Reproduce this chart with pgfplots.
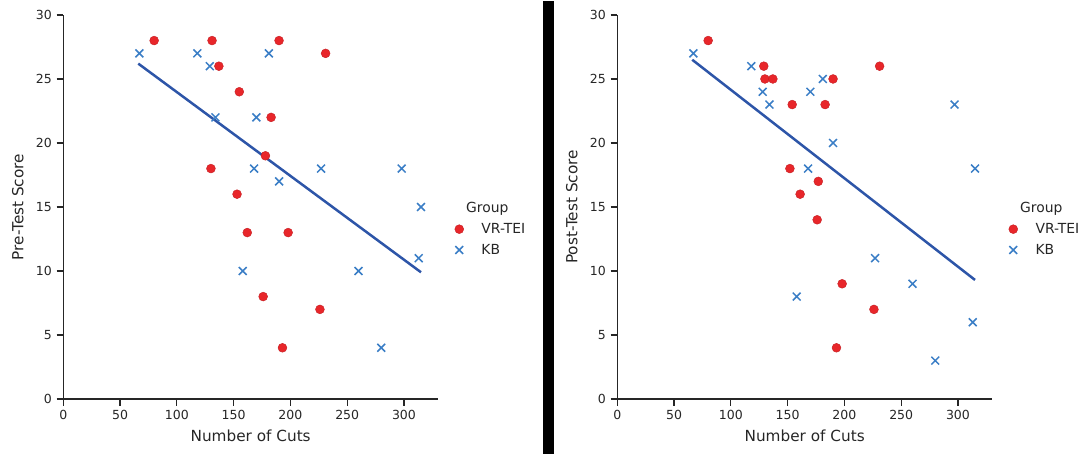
\documentclass[border=0pt]{standalone}
\usepackage{fontspec}
\setmainfont{DejaVu Sans}
\usepackage{pgfplots}
\pgfplotsset{compat=1.18}
\definecolor{vrred}{HTML}{E8262A}
\definecolor{kbblue}{HTML}{3A7EC6}
\definecolor{fitblue}{HTML}{2D55A8}
\definecolor{axgray}{HTML}{262626}
\pgfplotsset{
  myax/.style={
    width=269.8pt, height=276.5pt, scale only axis,
    xmin=0, xmax=330, ymin=0, ymax=30,
    axis x line*=bottom, axis y line*=left,
    axis line style={axgray, line width=0.9pt},
    xtick={0,50,...,300}, ytick={0,5,...,30},
    tick align=outside, major tick length=4.8pt,
    tick style={axgray, line width=0.9pt},
    /pgf/number format/assume math mode=true,
    tick label style={font=\fontsize{9}{11}\selectfont, text=axgray},
    label style={font=\fontsize{11}{13}\selectfont, text=axgray},
    ylabel style={xshift=0pt, yshift=2pt},
    xlabel={Number of Cuts},
    legend style={draw=none, fill=none, font=\fontsize{10}{12}\selectfont, text=axgray,
      at={(1.030,0.528)}, anchor=north west, row sep=2.2pt},
    legend cell align=left,
    clip=false,
  },
  mylegimg/.style={legend image code/.code={\path[draw=none,fill=none] (-4pt,-3pt) rectangle (14pt,3pt); \draw[##1] plot coordinates {(0pt,0pt)};}},
  vr/.style={only marks, mark=*, mark size=3.2pt, color=vrred, mark options={fill=vrred, draw=vrred!85!black, line width=0.3pt}, mylegimg},
  kb/.style={only marks, mark=x, mark size=4.0pt, color=kbblue, mark options={line width=1.1pt}, mylegimg},
  fit/.style={fitblue, line width=1.8pt, no marks},
}
\begin{document}
\begin{tikzpicture}
\useasboundingbox (0,0) rectangle (780.48pt,328.32pt);
\fill[black] (390.7pt,1.44pt) rectangle (399.1pt,327.6pt);
\begin{axis}[myax, at={(45.58pt,41.04pt)}, anchor=origin, ylabel={Pre-Test Score}]
\addlegendimage{empty legend}\addlegendentry{\hspace{-11pt}Group}
\addplot[vr] coordinates {(80,28) (131,28) (190,28) (231,27) (137,26) (155,24) (183,22) (178,19) (130,18) (153,16) (162,13) (198,13) (176,8) (226,7) (193,4)};
\addlegendentry{VR-TEI}
\addplot[kb] coordinates {(67,27) (118,27) (181,27) (129,26) (134,22) (170,22) (168,18) (190,17) (227,18) (298,18) (315,15) (313,11) (158,10) (260,10) (280,4)};
\addlegendentry{KB}
\addplot[fit, forget plot] coordinates {(66,26.2) (315,9.9)};
\end{axis}
\begin{axis}[myax, at={(444.46pt,41.04pt)}, anchor=origin, ylabel={Post-Test Score}]
\addlegendimage{empty legend}\addlegendentry{\hspace{-11pt}Group}
\addplot[vr] coordinates {(80,28) (129,26) (130,25) (137,25) (190,25) (231,26) (154,23) (183,23) (152,18) (177,17) (161,16) (176,14) (198,9) (226,7) (193,4)};
\addlegendentry{VR-TEI}
\addplot[kb] coordinates {(67,27) (118,26) (181,25) (128,24) (170,24) (134,23) (297,23) (190,20) (168,18) (315,18) (227,11) (260,9) (158,8) (313,6) (280,3)};
\addlegendentry{KB}
\addplot[fit, forget plot] coordinates {(66,26.5) (315,9.3)};
\end{axis}
\end{tikzpicture}
\end{document}
